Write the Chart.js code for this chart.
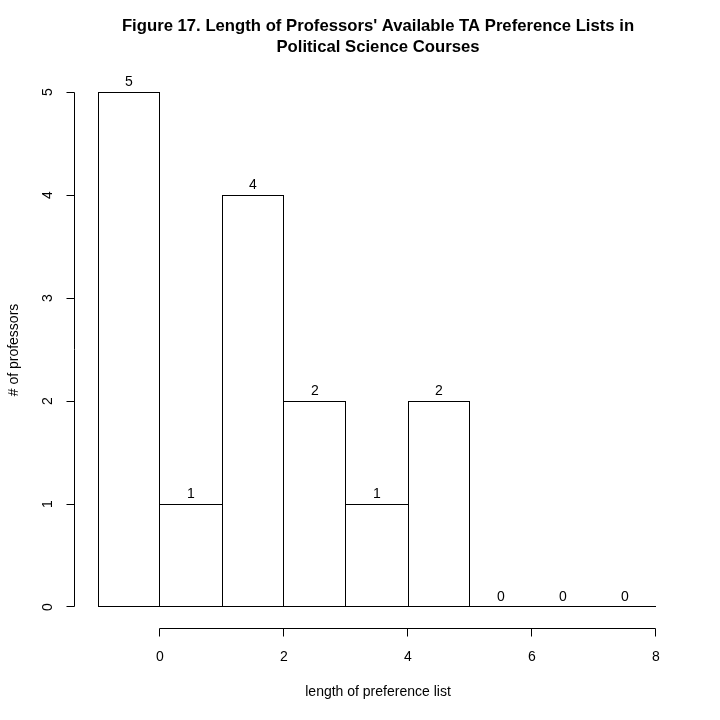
<!DOCTYPE html>
<html>
<head>
<meta charset="utf-8">
<script src="https://cdn.jsdelivr.net/npm/chart.js@4.4.0/dist/chart.umd.min.js"></script>
<style>
  html, body { margin: 0; padding: 0; background: #fff; }
  #wrap { width: 720px; height: 720px; position: relative; }
</style>
</head>
<body>
<div id="wrap"><canvas id="hist"></canvas></div>
<script>
// histogram bins (centers) and counts
const binCenters = [-0.5, 0.5, 1.5, 2.5, 3.5, 4.5, 5.5, 6.5, 7.5];
const counts = [5, 1, 4, 2, 1, 2, 0, 0, 0];
const xTicks = [0, 2, 4, 6, 8];
const yTicks = [0, 1, 2, 3, 4, 5];

const FONT = '"Liberation Sans", Arial, Helvetica, sans-serif';

// shared edges between neighbouring bars are drawn once, by the taller bar
function edgeWidths(ctx) {
  const i = ctx.dataIndex;
  const n = counts.length;
  const left = (i === 0 || counts[i] > counts[i - 1]) ? 1 : 0;
  const right = (i === n - 1 || counts[i] >= counts[i + 1]) ? 1 : 0;
  return { top: 1, bottom: 1, left, right };
}

// R-style detached axes, bar labels and axis titles
const rStyle = {
  id: 'rStyle',
  afterDraw(chart) {
    const { ctx, scales: { x, y } } = chart;
    ctx.save();
    ctx.strokeStyle = '#000';
    ctx.fillStyle = '#000';
    ctx.lineWidth = 1;

    // empty bins: R draws a flat rectangle on the baseline
    const y0 = Math.round(y.getPixelForValue(0)) - 0.5;
    ctx.beginPath();
    binCenters.forEach((c, i) => {
      if (counts[i] === 0) {
        ctx.moveTo(x.getPixelForValue(c - 0.5), y0);
        ctx.lineTo(x.getPixelForValue(c + 0.5), y0);
      }
    });
    ctx.stroke();

    // counts above bars
    ctx.font = '14px ' + FONT;
    ctx.textAlign = 'center';
    ctx.textBaseline = 'middle';
    binCenters.forEach((c, i) => {
      ctx.fillText(String(counts[i]), x.getPixelForValue(c), y.getPixelForValue(counts[i]) - 10);
    });

    // x axis
    const xAxisY = 628.5;
    ctx.beginPath();
    ctx.moveTo(Math.round(x.getPixelForValue(xTicks[0])) - 0.5, xAxisY);
    ctx.lineTo(Math.round(x.getPixelForValue(xTicks[xTicks.length - 1])) - 0.5, xAxisY);
    xTicks.forEach(t => {
      const px = Math.round(x.getPixelForValue(t)) - 0.5;
      ctx.moveTo(px, xAxisY);
      ctx.lineTo(px, xAxisY + 8);
    });
    ctx.stroke();
    xTicks.forEach(t => ctx.fillText(String(t), x.getPixelForValue(t), 657));

    // y axis
    const yAxisX = 74.5;
    ctx.beginPath();
    ctx.moveTo(yAxisX, Math.round(y.getPixelForValue(yTicks[0])) - 0.5);
    ctx.lineTo(yAxisX, Math.round(y.getPixelForValue(yTicks[yTicks.length - 1])) + 0.5);
    yTicks.forEach(t => {
      const py = Math.round(y.getPixelForValue(t)) + (t === 0 ? -0.5 : 0.5);
      ctx.moveTo(yAxisX, py);
      ctx.lineTo(yAxisX - 8, py);
    });
    ctx.stroke();
    yTicks.forEach(t => {
      ctx.save();
      ctx.translate(48, y.getPixelForValue(t));
      ctx.rotate(-Math.PI / 2);
      ctx.fillText(String(t), 0, 0);
      ctx.restore();
    });

    // axis titles
    ctx.fillText('length of preference list', 378, 692);
    ctx.save();
    ctx.translate(14, 350);
    ctx.rotate(-Math.PI / 2);
    ctx.fillText('# of professors', 0, 0);
    ctx.restore();

    // title
    ctx.font = 'bold 16.7px ' + FONT;
    ctx.fillText("Figure 17. Length of Professors' Available TA Preference Lists in", 378, 26);
    ctx.fillText('Political Science Courses', 378, 47);
    ctx.restore();
  }
};

new Chart(document.getElementById('hist'), {
  type: 'bar',
  data: {
    datasets: [{
      data: binCenters.map((c, i) => ({ x: c, y: counts[i] })),
      backgroundColor: '#ffffff',
      borderColor: '#000000',
      borderWidth: edgeWidths,
      borderSkipped: false,
      inflateAmount: 0,
      barPercentage: 1,
      categoryPercentage: 1,
      clip: false
    }]
  },
  options: {
    responsive: true,
    maintainAspectRatio: false,
    animation: false,
    devicePixelRatio: 1,
    // whole-pixel units (62 px per bin, 103 px per count) keep edges crisp
    layout: { padding: { left: 98, right: 64, top: 92, bottom: 113 } },
    scales: {
      x: { type: 'linear', min: -1, max: 8, offset: false, display: false },
      y: { min: 0, max: 5, display: false }
    },
    plugins: {
      legend: { display: false },
      tooltip: { enabled: false }
    }
  },
  plugins: [rStyle]
});
</script>
</body>
</html>
